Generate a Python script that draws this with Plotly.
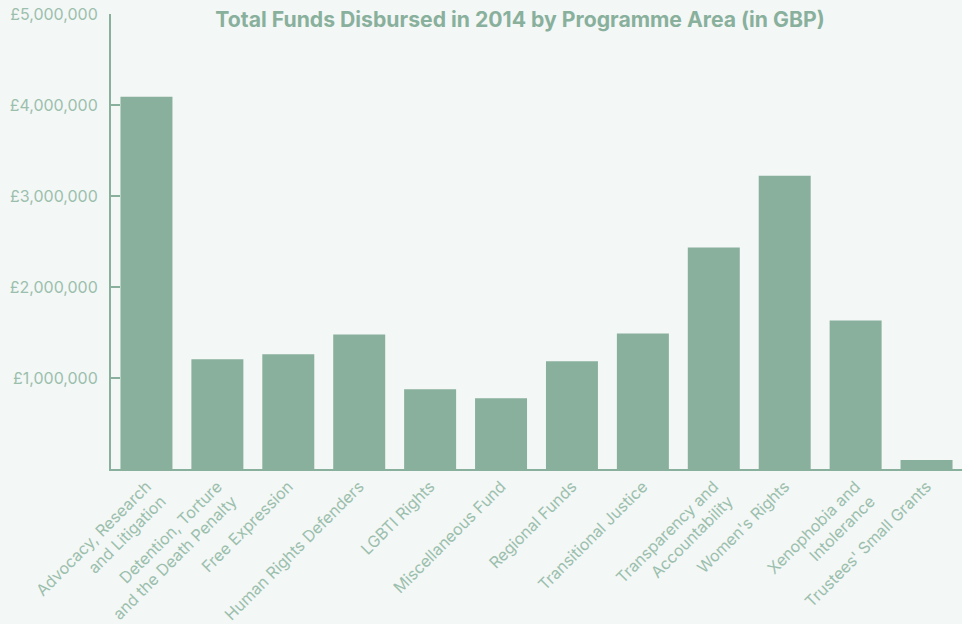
import plotly.graph_objects as go

categories = [
    "Advocacy, Research<br>and Litigation",
    "Detention, Torture<br>and the Death Penalty",
    "Free Expression",
    "Human Rights Defenders",
    "LGBTI Rights",
    "Miscellaneous Fund",
    "Regional Funds",
    "Transitional Justice",
    "Transparency and<br>Accountability",
    "Women's Rights",
    "Xenophobia and<br>Intolerance",
    "Trustees' Small Grants",
]
values = [4090000, 1205000, 1260000, 1479000, 877000, 778000,
          1184000, 1490000, 2433000, 3222000, 1633000, 99000]
ytick_vals = [1000000, 2000000, 3000000, 4000000, 5000000]
ytick_text = ["£1,000,000", "£2,000,000", "£3,000,000", "£4,000,000", "£5,000,000"]

BAR = "#89b09c"
TXT = "#9cbfad"
BG = "#f3f7f6"
FONT = "Inter"

fig = go.Figure(go.Bar(x=categories, y=values, marker_color=BAR, marker_line_width=0))

fig.update_layout(
    width=962, height=624,
    paper_bgcolor=BG, plot_bgcolor=BG,
    margin=dict(l=111, r=0, t=14, b=155),
    bargap=0.267,
    showlegend=False,
    font=dict(family=FONT, color=TXT),
    title=dict(
        text="<b>Total Funds Disbursed in 2014 by Programme Area (in GBP)</b>",
        x=520 / 962, xanchor="center", xref="container",
        y=1 - 20 / 624, yanchor="middle", yref="container",
        font=dict(family=FONT, size=21.2, color=BAR),
    ),
)
fig.update_xaxes(
    showline=True, linecolor=BAR, linewidth=2,
    ticks="", tickangle=-45, automargin=False,
    tickfont=dict(family=FONT, size=16, color=TXT),
    showgrid=False,
)
fig.update_yaxes(
    range=[0, 5000000], automargin=False,
    showline=True, linecolor=BAR, linewidth=2,
    ticks="inside", ticklen=9, tickwidth=2, tickcolor=BAR,
    tickmode="array", tickvals=ytick_vals, ticktext=ytick_text,
    tickfont=dict(family=FONT, size=16, color=TXT),
    ticklabelstandoff=8,
    showgrid=False, zeroline=False,
)

fig.write_html("out.html")
